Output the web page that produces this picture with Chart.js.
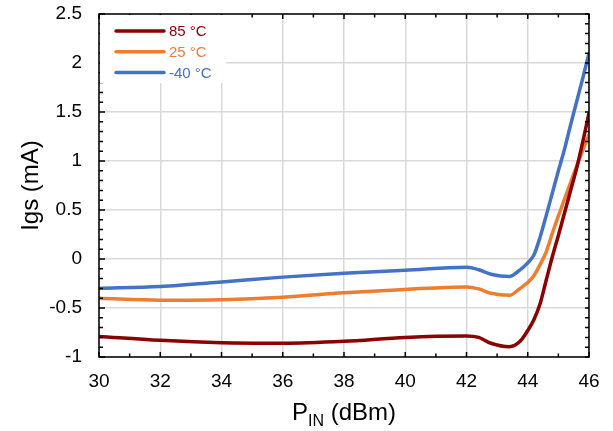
<!DOCTYPE html>
<html>
<head>
<meta charset="utf-8">
<script src="https://cdn.jsdelivr.net/npm/chart.js@4.4.1/dist/chart.umd.min.js"></script>
<style>
  html, body { margin: 0; padding: 0; background: #fff; }
</style>
</head>
<body>
<canvas id="chart" width="613" height="431"></canvas>
<script>
// input power sweep (dBm), shared by all three curves
const pinDbm = [30, 32, 34, 36, 38, 40, 42, 42.4, 42.8, 43.4, 43.75, 44, 44.2, 44.4, 44.6, 44.8, 45, 45.2, 45.4, 45.6, 45.8, 46];

// gate current Igs (mA) at each temperature
const igsHot = [-0.79, -0.83, -0.855, -0.86, -0.84, -0.80, -0.785, -0.80, -0.86, -0.895, -0.84, -0.73, -0.62, -0.46, -0.22, 0.02, 0.24, 0.47, 0.70, 0.93, 1.20, 1.49];
const igsRoom = [-0.40, -0.42, -0.415, -0.39, -0.345, -0.31, -0.285, -0.305, -0.35, -0.37, -0.30, -0.24, -0.17, -0.06, 0.07, 0.26, 0.44, 0.61, 0.78, 0.95, 1.11, 1.27];
const igsCold = [-0.30, -0.28, -0.235, -0.185, -0.145, -0.115, -0.085, -0.11, -0.155, -0.178, -0.11, -0.04, 0.04, 0.22, 0.44, 0.67, 0.90, 1.12, 1.37, 1.61, 1.85, 2.10];

const seriesNames = ['85 °C', '25 °C', '-40 °C'];
const seriesColors = ['#8B0000', '#ED7D31', '#4472C4'];

const xTicks = [30, 32, 34, 36, 38, 40, 42, 44, 46];
const yTicks = [-1, -0.5, 0, 0.5, 1, 1.5, 2, 2.5];
const yTickLabels = ['-1', '-0.5', '0', '0.5', '1', '1.5', '2', '2.5'];

const FONT = "'Liberation Sans', Arial, sans-serif";

const toPoints = (ys) => ys.map((y, i) => ({ x: pinDbm[i], y }));

// box frame, inward ticks, axis titles and the legend panel
const framePlugin = {
  id: 'frame',
  afterDraw(chart) {
    const { ctx, chartArea: a, scales: { x, y } } = chart;
    ctx.save();

    // outer box
    ctx.strokeStyle = '#000';
    ctx.lineWidth = 1.5;
    ctx.strokeRect(a.left, a.top, a.right - a.left, a.bottom - a.top);

    // x ticks every 1 dBm, longer on the labelled ones
    ctx.beginPath();
    for (let v = 30; v <= 46; v++) {
      const px = x.getPixelForValue(v);
      const len = v % 2 === 0 ? 5 : 3.5;
      ctx.moveTo(px, a.bottom); ctx.lineTo(px, a.bottom - len);
      ctx.moveTo(px, a.top); ctx.lineTo(px, a.top + len);
    }
    // y ticks every 0.1 mA
    for (let k = -10; k <= 25; k++) {
      const py = y.getPixelForValue(k / 10);
      const len = k % 5 === 0 ? 6 : 4;
      ctx.moveTo(a.left, py); ctx.lineTo(a.left + len, py);
      ctx.moveTo(a.right, py); ctx.lineTo(a.right - 4, py);
    }
    ctx.stroke();

    // y title
    ctx.fillStyle = '#000';
    ctx.font = `24px ${FONT}`;
    ctx.save();
    ctx.translate(38, (a.top + a.bottom) / 2);
    ctx.rotate(-Math.PI / 2);
    ctx.textAlign = 'center';
    ctx.textBaseline = 'alphabetic';
    ctx.fillText('Igs (mA)', 0, 0);
    ctx.restore();

    // x title with subscript
    const main = `24px ${FONT}`, sub = `16px ${FONT}`;
    ctx.textAlign = 'left';
    ctx.textBaseline = 'alphabetic';
    ctx.font = main; const wP = ctx.measureText('P').width;
    const wRest = ctx.measureText(' (dBm)').width;
    ctx.font = sub; const wIn = ctx.measureText('IN').width;
    let tx = (a.left + a.right) / 2 - (wP + wIn + wRest) / 2;
    const base = 420;
    ctx.font = main; ctx.fillText('P', tx, base); tx += wP;
    ctx.font = sub; ctx.fillText('IN', tx, base + 6); tx += wIn;
    ctx.font = main; ctx.fillText(' (dBm)', tx, base);

    // legend panel sitting over the grid
    ctx.fillStyle = '#fff';
    ctx.fillRect(a.left + 1, a.top + 1, 126, 68);
    ctx.font = `15px ${FONT}`;
    ctx.textBaseline = 'middle';
    ctx.lineWidth = 3.5;
    ctx.lineCap = 'round';
    seriesNames.forEach((name, i) => {
      const ly = a.top + 17 + i * 20.7;
      ctx.strokeStyle = seriesColors[i];
      ctx.beginPath();
      ctx.moveTo(116, ly); ctx.lineTo(164, ly);
      ctx.stroke();
      ctx.fillStyle = seriesColors[i];
      ctx.fillText(name, 169, ly + 1);
    });

    ctx.restore();
  }
};

const gridStyle = { color: '#d9d9d9', lineWidth: 1.5, drawTicks: false };

new Chart(document.getElementById('chart'), {
  type: 'line',
  data: {
    datasets: [igsHot, igsRoom, igsCold].map((ys, i) => ({
      label: seriesNames[i],
      data: toPoints(ys),
      borderColor: seriesColors[i],
      backgroundColor: seriesColors[i],
      borderWidth: 3.5,
      pointRadius: 0,
      cubicInterpolationMode: 'monotone',
      fill: false
    }))
  },
  options: {
    responsive: false,
    animation: false,
    devicePixelRatio: 1,
    layout: { padding: { top: 14, right: 24, bottom: 0, left: 0 } },
    plugins: { legend: { display: false }, tooltip: { enabled: false } },
    scales: {
      x: {
        type: 'linear',
        min: 30,
        max: 46,
        afterBuildTicks: (s) => { s.ticks = xTicks.map((v) => ({ value: v })); },
        afterFit: (s) => { s.height = 74; s.paddingLeft = 0; s.paddingRight = 0; },
        grid: gridStyle,
        border: { display: false },
        ticks: {
          color: '#000',
          font: { family: FONT, size: 19 },
          padding: 13,
          maxRotation: 0,
          autoSkip: false,
          callback: (v) => String(v)
        }
      },
      y: {
        type: 'linear',
        min: -1,
        max: 2.5,
        afterBuildTicks: (s) => { s.ticks = yTicks.map((v) => ({ value: v })); },
        afterFit: (s) => { s.width = 99; s.paddingTop = 0; s.paddingBottom = 0; },
        grid: gridStyle,
        border: { display: false },
        ticks: {
          color: '#000',
          font: { family: FONT, size: 19 },
          padding: 17,
          autoSkip: false,
          callback: (v, i) => yTickLabels[i]
        }
      }
    }
  },
  plugins: [framePlugin]
});
</script>
</body>
</html>
